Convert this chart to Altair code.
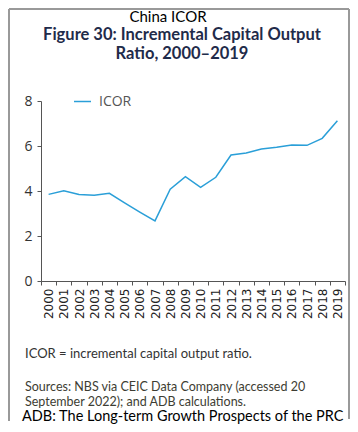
import altair as alt
import pandas as pd

years = [str(y) for y in range(2000, 2020)]
icor = [3.85, 4.01, 3.84, 3.81, 3.90, 3.47, 3.06, 2.67, 4.08, 4.64,
        4.16, 4.61, 5.60, 5.69, 5.87, 5.94, 6.04, 6.03, 6.34, 7.12]
series = ["ICOR"] * len(years)
y_ticks = [0, 2, 4, 6, 8]

top_title = "China ICOR"
fig_title = ["Figure 30: Incremental Capital Output", "Ratio, 2000–2019"]
note1 = "ICOR = incremental capital output ratio."
sources = ["Sources: NBS via CEIC Data Company (accessed 20", "September 2022); and ADB calculations."]
bottom_text = "ADB: The Long-term Growth Prospects of the PRC"

df = pd.DataFrame({"year": years, "value": icor, "series": series})

BLUE = "#2a9fd8"
AXIS = "#555555"

line = alt.Chart(df).mark_line(strokeWidth=1.5).encode(
    x=alt.X("year:O", scale=alt.Scale(type="band", paddingInner=0, paddingOuter=0),
            axis=alt.Axis(title=None, labelAngle=-90, tickBand="extent",
                          labelFont="DejaVu Sans", labelFontSize=12, labelColor="#222222",
                          domainColor=AXIS, tickColor=AXIS, tickSize=4, labelPadding=3,
                          grid=False)),
    y=alt.Y("value:Q", scale=alt.Scale(domain=[0, 8], nice=False),
            axis=alt.Axis(title=None, values=y_ticks, labelFont="Open Sans", labelFontSize=14,
                          labelColor="#333333", domainColor=AXIS, tickColor=AXIS,
                          tickSize=4, labelPadding=5, grid=False)),
    color=alt.Color("series:N", scale=alt.Scale(range=[BLUE]),
                    legend=alt.Legend(title=None, orient="none", legendX=32, legendY=-9,
                                      symbolType="stroke", symbolSize=289, symbolStrokeWidth=1.5,
                                      labelFont="Open Sans", labelFontSize=14, labelColor="#555555",
                                      labelOffset=7, padding=0)),
)

one = pd.DataFrame({"k": [0]})


def txt(s, x, y, size, font="Lato", weight="normal", color="#000000", align="left"):
    return alt.Chart(one).mark_text(text=s, font=font, fontSize=size, fontWeight=weight,
                                    color=color, align=align, baseline="alphabetic").encode(
        x=alt.value(x), y=alt.value(y))


texts = [
    txt(top_title, 127, -79, 15, align="center"),
    txt(fig_title[0], 141, -61, 16.5, weight="bold", color="#1f2b4a", align="center"),
    txt(fig_title[1], 141, -42, 16.5, weight="bold", color="#1f2b4a", align="center"),
    txt(note1, -16, 257, 13, color="#333333"),
    txt(sources[0], -16, 290, 12.5, color="#3d3d33"),
    txt(sources[1], -16, 304.5, 12.5, color="#3d3d33"),
    txt(bottom_text, -19, 320, 14.5, color="#000000"),
]


def rule(x, x2, y, y2):
    return alt.Chart(one).mark_rule(color="#999999", strokeWidth=2).encode(
        x=alt.value(x), x2=alt.value(x2), y=alt.value(y), y2=alt.value(y2))


borders = [
    rule(-32, 308, -92, -92),
    rule(-32, -32, -92, 320),
    rule(308, 308, -92, 318),
]

chart = alt.layer(line, *texts, *borders).properties(
    width=304, height=180,
    autosize="none",
    padding={"left": 33, "top": 93, "right": 5, "bottom": 143},
).configure_view(stroke=None)

chart.save("out.html", embed_options={"renderer": "svg", "actions": False})
